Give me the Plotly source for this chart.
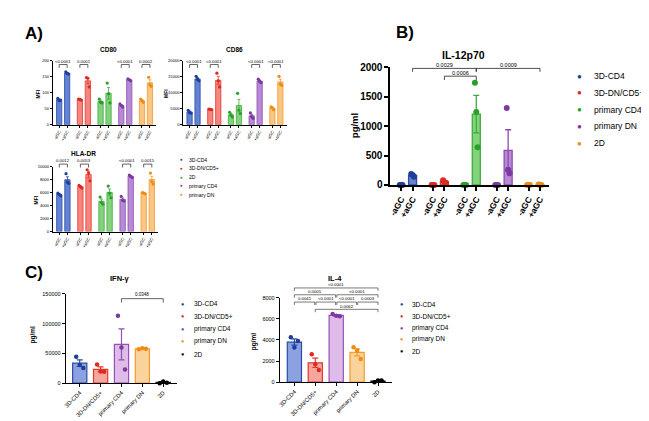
import plotly.graph_objects as go

W, H = 649, 421
FONT = "Liberation Sans, Arial, Helvetica, sans-serif"


def fx(p):
    return p / W


def fy(p):
    return 1 - p / H


# ---------------- Panel A data ----------------
A_groups = ["3D-CD4", "3D-DN/CD5+", "2D", "primary CD4", "primary DN"]
A_conds = ["-aGC", "+aGC"]

cd80_mean = [[78, 161], [79, 137], [73, 98], [60, 140], [75, 131]]
cd80_sem = [[2, 2], [1, 9], [4, 18], [3, 2], [3, 9]]
cd80_pts = [
    [[82, 75, 77], [165, 160, 158]],
    [[80, 79, 77], [147, 145, 118]],
    [[80, 70, 68], [130, 97, 68]],
    [[65, 60, 55], [143, 140, 137]],
    [[80, 75, 70], [148, 125, 120]],
]
cd80_p = ["<0.0001", "0.0001", None, "<0.0001", "0.0002"]

cd86_mean = [[4000, 14300], [4800, 13870], [3100, 5970], [2770, 13630], [5200, 13370]]
cd86_sem = [[300, 400], [100, 1250], [450, 1950], [500, 300], [300, 900]]
cd86_pts = [
    [[4500, 3800, 3600], [15100, 14200, 13700]],
    [[4900, 4800, 4700], [16100, 13700, 11800]],
    [[3900, 3000, 2400], [9800, 4600, 3500]],
    [[3700, 2600, 2000], [14200, 13600, 13100]],
    [[5600, 5300, 4700], [15100, 12700, 12300]],
]
cd86_p = ["<0.0001", "<0.0001", None, "<0.0001", "<0.0001"]

hla_mean = [[5700, 7970], [6900, 8770], [4670, 6030], [4970, 8500], [5900, 8000]]
hla_sem = [[120, 450], [120, 520], [330, 520], [200, 120], [60, 500]]
hla_pts = [
    [[5900, 5700, 5500], [8900, 7600, 7400]],
    [[7100, 6900, 6700], [9500, 9000, 7800]],
    [[5300, 4500, 4200], [7000, 5900, 5200]],
    [[5400, 4800, 4700], [8700, 8500, 8300]],
    [[6000, 5900, 5800], [9000, 7700, 7300]],
]
hla_p = ["0.0012", "0.0053", None, "<0.0001", "0.0015"]

# ---------------- Panel B data ----------------
B_groups = ["3D-CD4", "3D-DN/CD5+", "primary CD4", "primary DN", "2D"]
il12_mean = [[0, 165], [0, 55], [0, 1205], [0, 590], [0, 5]]
il12_sem = [[0, 15], [0, 12], [0, 320], [0, 350], [0, 3]]
il12_pts = [
    [[0, 0, 0], [185, 170, 140]],
    [[0, 0, 0], [80, 45, 40]],
    [[0, 0, 0], [1740, 1240, 640]],
    [[0, 0, 0], [1310, 260, 200]],
    [[0, 0, 0], [10, 5, 0]],
]

# ---------------- Panel C data ----------------
C_groups = ["3D-CD4", "3D-DN/CD5+", "primary CD4", "primary DN", "2D"]
ifn_mean = [33500, 23300, 65000, 57800, 1200]
ifn_sem = [5500, 4000, 26000, 700, 800]
ifn_pts = [[44500, 30500, 25500], [31500, 19500, 19000], [113000, 60000, 23000],
           [57000, 58800, 57600], [0, 2800, 800]]

il4_mean = [3800, 1830, 6330, 2830, 100]
il4_sem = [300, 440, 70, 330, 50]
il4_pts = [[4250, 3280, 3900], [2650, 1700, 1150], [6450, 6300, 6250],
           [3300, 3000, 2200], [0, 150, 150]]

# ---------------- styles ----------------
BLUE = dict(fill="rgba(72,108,205,0.85)", line="#2a4ca6", dot="#1f3f96")
RED = dict(fill="rgba(243,112,102,0.85)", line="#e3382e", dot="#dd2a20")
GREEN = dict(fill="rgba(112,202,102,0.85)", line="#3cac3c", dot="#2aa02a")
PURPLE = dict(fill="rgba(172,118,207,0.85)", line="#8b4cad", dot="#7b3aa0")
ORANGE = dict(fill="rgba(249,192,118,0.9)", line="#f39b2e", dot="#ef8c15")
BLACK = dict(fill="rgba(60,60,60,0.5)", line="#111111", dot="#000000")

A_pal = [BLUE, RED, GREEN, PURPLE, ORANGE]
B_pal = [BLUE, RED, GREEN, PURPLE, ORANGE]
C_pal = [
    dict(fill="rgba(120,145,218,0.85)", line="#2a4ca6", dot="#1f3f96"),
    dict(fill="rgba(245,150,140,0.85)", line="#e3382e", dot="#dd2a20"),
    dict(fill="rgba(220,180,232,0.9)", line="#9650b4", dot="#7b3aa0"),
    dict(fill="rgba(250,205,145,0.9)", line="#f29a2c", dot="#ef8c15"),
    BLACK,
]

fig = go.Figure()
shapes = []
anns = []


def an(x, y, text, size, xref="paper", yref="paper", bold=False, color="black",
       xanchor="center", yanchor="middle", angle=0):
    anns.append(dict(
        x=x, y=y, xref=xref, yref=yref, text=f"<b>{text}</b>" if bold else text,
        showarrow=False, xanchor=xanchor, yanchor=yanchor, textangle=angle,
        font=dict(family=FONT, size=size, color=color), borderpad=0))


def ax(k, kind):
    return kind if k == 1 else f"{kind}{k}"


def lkey(k, kind):
    return f"{kind}axis" if k == 1 else f"{kind}axis{k}"


def bracket(k, x1, x2, yline, yend, label, fsize, lw=0.7, label_y=None):
    xr = ax(k, "x")
    shapes.append(dict(
        type="path", xref=xr, yref="paper",
        path=f"M {x1},{fy(yend)} L {x1},{fy(yline)} L {x2},{fy(yline)} L {x2},{fy(yend)}",
        line=dict(color="#222222", width=lw)))
    if label_y is None:
        label_y = yline - 3.5
    an((x1 + x2) / 2, fy(label_y), label, fsize, xref=xr)


def paired_panel(k, means, sems, pts, pal, spacing, bw, dsize, jit, lw, ecap):
    for g in range(5):
        xs = [g * spacing + i for i in range(2)]
        fig.add_trace(go.Bar(
            x=xs, y=means[g], width=bw, xaxis=ax(k, "x"), yaxis=ax(k, "y"),
            marker=dict(color=pal[g]["fill"], line=dict(color=pal[g]["line"], width=lw)),
            error_y=dict(type="data", array=sems[g], color=pal[g]["line"],
                         thickness=lw, width=ecap),
            showlegend=False, hoverinfo="skip"))
        for i in range(2):
            fig.add_trace(go.Scatter(
                x=[xs[i] + j for j in jit], y=pts[g][i], mode="markers",
                xaxis=ax(k, "x"), yaxis=ax(k, "y"), cliponaxis=False,
                marker=dict(size=dsize, color=pal[g]["dot"]),
                showlegend=False, hoverinfo="skip"))


def single_panel(k, means, sems, pts, pal, bw, dsize, jit, lw, ecap):
    for g in range(5):
        fig.add_trace(go.Bar(
            x=[g], y=[means[g]], width=bw, xaxis=ax(k, "x"), yaxis=ax(k, "y"),
            marker=dict(color=pal[g]["fill"], line=dict(color=pal[g]["line"], width=lw)),
            error_y=dict(type="data", array=[sems[g]], color=pal[g]["line"],
                         thickness=lw, width=ecap),
            showlegend=False, hoverinfo="skip"))
        fig.add_trace(go.Scatter(
            x=[g + j for j in jit], y=pts[g], mode="markers",
            xaxis=ax(k, "x"), yaxis=ax(k, "y"), cliponaxis=False,
            marker=dict(size=dsize, color=pal[g]["dot"]),
            showlegend=False, hoverinfo="skip"))


layout_axes = {}


def set_axes(k, xdom, ydom, xrange, yrange, ytickvals, xtickvals, xticktext,
             tfs, xtfs, xangle, lw, bold=False, ticklen=3):
    weight = "bold" if bold else "normal"
    layout_axes[lkey(k, "x")] = dict(
        domain=[fx(xdom[0]), fx(xdom[1])], anchor=ax(k, "y"), range=xrange,
        showline=True, linecolor="black", linewidth=lw, ticks="outside",
        ticklen=ticklen, tickwidth=lw, tickcolor="black",
        tickvals=xtickvals, ticktext=xticktext, tickangle=xangle,
        tickfont=dict(family=FONT, size=xtfs, color="black", weight=weight),
        showgrid=False, zeroline=False, fixedrange=True)
    layout_axes[lkey(k, "y")] = dict(
        domain=[fy(ydom[0]), fy(ydom[1])], anchor=ax(k, "x"), range=yrange,
        showline=True, linecolor="black", linewidth=lw, ticks="outside",
        ticklen=ticklen, tickwidth=lw, tickcolor="black", tickvals=ytickvals,
        tickformat="d", tickfont=dict(family=FONT, size=tfs, color="black", weight=weight),
        showgrid=False, zeroline=False, fixedrange=True)


# ---------------- Panel A ----------------
A_sp = 2.6
A_xr = [-0.8, 12.2]
A_ticks = [g * A_sp + i for g in range(5) for i in range(2)]
A_ticktext = [c for g in range(5) for c in A_conds]
A_jit = [-0.17, 0.0, 0.17]

panels_A = [
    (1, cd80_mean, cd80_sem, cd80_pts, cd80_p, (42, 146), (114, 48), [0, 200],
     [0, 50, 100, 150, 200], "CD80", (98, 37), (27, 82), 52),
    (2, cd86_mean, cd86_sem, cd86_pts, cd86_p, (173, 277), (114, 48), [0, 20000],
     [0, 5000, 10000, 15000, 20000], "CD86", (225, 37), (155, 82), 52),
    (3, hla_mean, hla_sem, hla_pts, hla_p, (42, 148), (224, 157), [0, 10000],
     [0, 2000, 4000, 6000, 8000, 10000], "HLA-DR", (73, 144), (25, 191), 154.5),
]
for (k, m, s, p, pv, xd, yd, yr, ytv, title, tpos, lpos, by) in panels_A:
    paired_panel(k, m, s, p, A_pal, A_sp, 0.66, 3.2, A_jit, 0.8, 1.5)
    set_axes(k, xd, (yd[0], yd[1]), A_xr, yr, ytv, A_ticks, A_ticktext,
             4.1, 4.2, -60, 0.8, ticklen=2)
    an(fx(tpos[0]), fy(tpos[1]), title, 6.5, bold=True)
    an(fx(lpos[0]), fy(lpos[1]), "MFI", 5, bold=True, angle=-90)
    for g in range(5):
        if pv[g]:
            bracket(k, g * A_sp, g * A_sp + 1, by, by + 3.5, pv[g], 4.3)

# legend A
for i, (name, c) in enumerate(zip(A_groups, A_pal)):
    y = 150 + i * 9
    an(fx(171), fy(y), "●", 4.5, color=c["dot"])
    an(fx(178), fy(y), name, 5, xanchor="left")

# ---------------- Panel B ----------------
B_sp = 2.78
B_ticks = [g * B_sp + i for g in range(5) for i in range(2)]
B_ticktext = [c for g in range(5) for c in A_conds]
paired_panel(4, il12_mean, il12_sem, il12_pts, B_pal, B_sp, 0.7, 6, [-0.12, 0.0, 0.12], 1.3, 3)
set_axes(4, (381, 541), (176, 55), [-0.95, 12.95], [0, 2000],
         [0, 500, 1000, 1500, 2000], B_ticks, B_ticktext, 10, 8.5, -60, 1.6,
         bold=True, ticklen=4)
an(fx(455), fy(42), "IL-12p70", 10.5, bold=True)
an(fx(345), fy(115), "pg/ml", 9.5, bold=True, angle=-90)
x_cd4p = 0 * B_sp + 1
x_dnp = 1 * B_sp + 1
x_pcd4p = 2 * B_sp + 1
x_2dp = 4 * B_sp + 1
bracket(4, x_cd4p, x_pcd4p, 56, 59.5, "0.0029", 5.5, lw=0.8, label_y=52.5)
bracket(4, x_pcd4p, x_2dp, 56, 59.5, "0.0009", 5.5, lw=0.8, label_y=52.5)
bracket(4, x_dnp, x_pcd4p, 64, 68, "0.0006", 5.5, lw=0.8, label_y=60.5)

for i, (name, c) in enumerate(zip(B_groups, B_pal)):
    y = 64 + i * 17.2
    an(fx(571), fy(y), "●", 8, color=c["dot"])
    an(fx(585), fy(y), name, 8.5, xanchor="left")

# ---------------- Panel C ----------------
C_ticks = [0, 1, 2, 3, 4]
C_jit = [-0.17, 0.0, 0.17]
single_panel(5, ifn_mean, ifn_sem, ifn_pts, C_pal, 0.68, 4.5, C_jit, 1.2, 3)
set_axes(5, (55, 167), (380, 288), [-0.67, 4.67], [0, 150000],
         [0, 50000, 100000, 150000], C_ticks, C_groups, 5.5, 5.8, -45, 1.0)
an(fx(110), fy(272), "IFN-γ", 7.5, bold=True)
an(fx(22), fy(330), "pg/ml", 6.5, bold=True, angle=-90)
bracket(5, 2, 4, 293, 297, "0.0348", 4.5, lw=0.7, label_y=288.5)

single_panel(6, il4_mean, il4_sem, il4_pts, C_pal, 0.68, 4.5, C_jit, 1.2, 3)
set_axes(6, (270, 383), (379, 292), [-0.7, 4.68], [0, 8000],
         [0, 2000, 4000, 6000, 8000], C_ticks, C_groups, 5.5, 5.8, -45, 1.0)
an(fx(326), fy(272), "IL-4", 7.5, bold=True)
an(fx(245), fy(337), "pg/ml", 6.5, bold=True, angle=-90)
bracket(6, 0, 4, 282, 285, "<0.0001", 4.3, lw=0.6, label_y=278.8)
bracket(6, 0, 1.97, 289, 292, "0.0005", 4.3, lw=0.6, label_y=285.8)
bracket(6, 2.03, 4, 289, 292, "<0.0001", 4.3, lw=0.6, label_y=285.8)
bracket(6, 0, 0.97, 296.5, 299.5, "0.0041", 4.3, lw=0.6, label_y=293.3)
bracket(6, 1.03, 1.97, 296.5, 299.5, "<0.0001", 4.3, lw=0.6, label_y=293.3)
bracket(6, 2.03, 2.97, 296.5, 299.5, "<0.0001", 4.3, lw=0.6, label_y=293.3)
bracket(6, 3.03, 4, 296.5, 299.5, "0.0003", 4.3, lw=0.6, label_y=293.3)
bracket(6, 1, 4, 304, 307, "0.0062", 4.3, lw=0.6, label_y=301)

for i, (name, c) in enumerate(zip(C_groups, C_pal)):
    y = 298 + i * 13
    an(fx(172), fy(y), "●", 5.5, color=c["dot"])
    an(fx(183), fy(y), name, 6.5, xanchor="left")
for i, (name, c) in enumerate(zip(C_groups, C_pal)):
    y = 299 + i * 12
    an(fx(392), fy(y), "●", 5.5, color=c["dot"])
    an(fx(402), fy(y), name, 6.5, xanchor="left")

# panel letters
an(fx(23), fy(20), "A)", 17, bold=True)
an(fx(396), fy(19), "B)", 17, bold=True)
an(fx(23), fy(266), "C)", 17, bold=True)

fig.update_layout(
    width=W, height=H, margin=dict(l=0, r=0, t=0, b=0),
    paper_bgcolor="white", plot_bgcolor="white", barmode="overlay",
    showlegend=False, font=dict(family=FONT, color="black"),
    shapes=shapes, annotations=anns, **layout_axes)

fig.write_html("out.html", config={"displayModeBar": False})
